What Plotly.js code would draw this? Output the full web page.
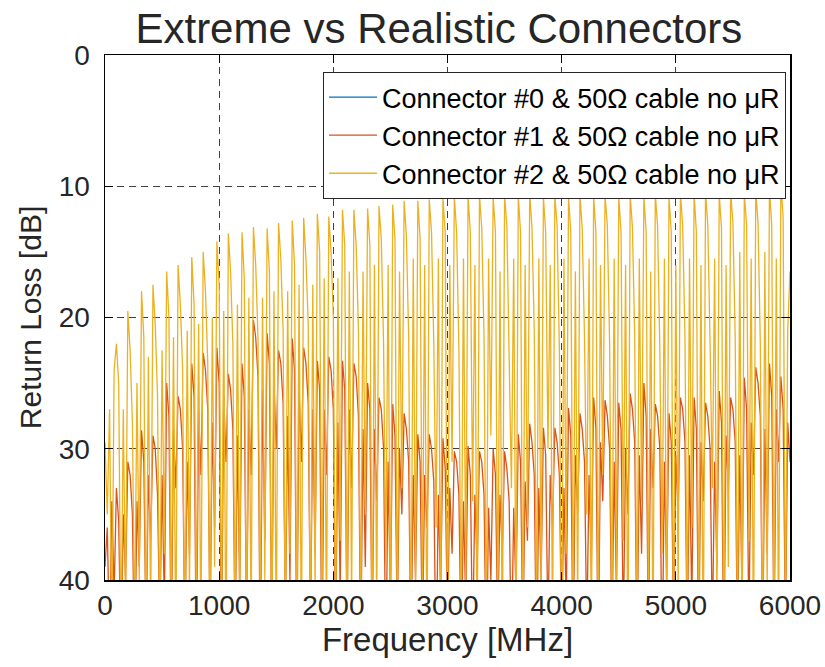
<!DOCTYPE html>
<html>
<head>
<meta charset="utf-8">
<script src="https://cdn.plot.ly/plotly-3.0.1.min.js"></script>
<style>html,body{margin:0;padding:0;background:#fff;}#chart{width:825px;height:667px;}</style>
</head>
<body>
<div id="chart"></div>
<script>
// Frequency sampling of the traces (MHz)
const freqStartMHz = 0;
const freqStepMHz = 20;

// Connector #0 & 50Ω cable no μR — stays below 40 dB (off the plotted range)
const blueFreq = [0, 1000, 2000, 3000, 4000, 5000, 6000];
const blueRL = [62, 55, 51, 49, 47, 46, 45];

// Connector #1 & 50Ω cable no μR (return loss, dB), one resonance per line
const orangeRL = [
  39, 36, 45, 34, 41,
  33, 35.5, 46, 35, 40,
  31, 32, 35, 47, 34, 39,
  28.6, 31, 45, 32, 37,
  29, 30, 33.5, 44, 32, 42,
  25, 27.5, 46, 28.5, 33,
  26, 27, 30, 45, 31, 38,
  23.5, 26, 47, 27, 32,
  22.7, 24, 27, 44, 28, 36,
  22.3, 25, 46, 26, 31,
  24.3, 25.5, 28.5, 45, 29, 41,
  23.5, 26, 44, 27, 32,
  20.2, 21.5, 24.5, 47, 25.5, 37,
  21.2, 23.5, 45, 25, 30,
  22.5, 23.5, 26.5, 43, 27.5, 40,
  21.6, 24, 46, 25.5, 31,
  22.3, 23.5, 26.5, 44, 27, 38,
  23.3, 25.5, 47, 27, 32,
  23, 24, 27, 45, 28, 41,
  23.3, 25.5, 44, 27, 33,
  23.5, 24.5, 27.5, 46, 28.5, 39,
  25, 27, 45, 28.5, 34,
  26.1, 27, 30, 47, 31, 42,
  26.6, 29, 44, 30, 35,
  27.3, 28.5, 31, 46, 32, 40,
  28.9, 31, 45, 32, 36,
  28.9, 30, 32.5, 47, 33.5, 41,
  29.2, 31.5, 44, 33, 38,
  30.2, 31, 33.5, 46, 34, 42,
  29.8, 32, 45, 33.5, 39,
  30.2, 31, 33.5, 47, 34.5, 40,
  30, 32, 44, 33.5, 38,
  30.2, 31.5, 34, 46, 34.5, 41,
  28.9, 31, 45, 32.5, 37,
  28.1, 29.5, 32, 47, 33, 40,
  28.4, 30.5, 44, 32, 36,
  28.4, 29.5, 32, 45, 33, 42,
  26.9, 29, 46, 30.5, 35,
  27.3, 28.5, 31, 44, 32, 39,
  26.1, 28.5, 47, 29.5, 34,
  26.3, 27.5, 30, 45, 31, 41,
  26.5, 28.5, 44, 30, 35,
  25.8, 27, 29.5, 46, 30.5, 38,
  25, 27.5, 45, 28.5, 33,
  26.6, 27.5, 30, 47, 31, 40,
  27.3, 29.5, 44, 30.5, 35,
  26.1, 27, 29.5, 45, 30.5, 42,
  26.1, 28.5, 46, 29.5, 34,
  26.5, 27.5, 30, 44, 31, 39,
  25.6, 28, 47, 29, 33,
  26.1, 27, 29.5, 45, 30.5, 41,
  24.6, 27, 44, 28, 32,
  23.8, 25, 27.5, 46, 28.5, 38,
  23.5, 26, 45, 27, 31,
  24.5, 27, 44, 28, 31
];

// Connector #2 & 50Ω cable no μR (return loss, dB), one resonance per line
const yellowRL = [
  29.5, 35, 27, 45, 24,
  22, 25, 46, 27, 42,
  19.5, 22.5, 28, 44, 25, 40,
  18, 21.5, 47, 23, 43,
  17.5, 20.5, 26, 45, 22.5, 38,
  16.5, 20, 44, 21.5, 46,
  16, 19, 24, 47, 21, 41,
  15.4, 19, 43, 20.5, 45,
  15, 18, 23.5, 46, 20, 39,
  14.2, 17.5, 44, 19.5, 47,
  13.6, 16.5, 22, 45, 19, 42,
  13.5, 17, 46, 18.5, 44,
  13.1, 16, 21.5, 43, 18.5, 40,
  13.2, 16.5, 47, 18, 45,
  12.8, 15.5, 21, 44, 18, 38,
  12.6, 16, 45, 17.5, 46,
  12.4, 15.5, 20.5, 46, 17.5, 41,
  12.1, 15, 43, 17, 44,
  12.3, 15, 20, 45, 17, 37,
  11.8, 14.5, 46, 16.5, 42,
  11.8, 14.5, 21, 44, 16.5, 35,
  11.7, 14.5, 47, 16, 43,
  11.5, 14, 22, 39, 16, 45,
  11.4, 14, 44, 16.5, 33,
  11.1, 13.8, 21.5, 46, 15.5, 40,
  11.1, 14, 42, 16, 47,
  11, 13.5, 22, 36, 15.5, 44,
  10.9, 13.5, 45, 16, 31,
  10.8, 13.5, 22.5, 44, 15.5, 40,
  10.8, 13.5, 34, 16, 46,
  10.7, 13.2, 21.5, 45, 15.5, 29,
  10.8, 13.5, 43, 16.5, 47,
  10.7, 13, 22, 33, 15.5, 44,
  10.8, 13.5, 46, 16, 36,
  10.6, 13.2, 21, 44, 15.5, 41,
  10.8, 13.5, 30, 16, 45,
  10.7, 13, 22.5, 47, 15.5, 38,
  10.8, 13.5, 44, 16.5, 42,
  10.7, 13.2, 21.5, 35, 15.5, 46,
  10.8, 13.5, 45, 16, 32,
  10.7, 13, 22, 44, 15.5, 40,
  10.8, 13.5, 37, 16, 47,
  10.6, 13.2, 21.5, 45, 15.5, 34,
  10.8, 13.5, 43, 16.5, 46,
  10.6, 13, 22.5, 38, 15.5, 44,
  10.8, 13.5, 46, 16, 41,
  10.5, 13, 21.5, 44, 15.5, 36,
  10.6, 13.5, 45, 16, 47,
  10.4, 13, 22, 33, 15.5, 43,
  10.6, 13.2, 46, 16, 39,
  10.4, 12.8, 21.5, 44, 15, 45,
  10.5, 13, 37, 15.5, 46,
  10.3, 12.8, 22, 47, 15, 41,
  10.2, 13, 44, 15.5, 45,
  9.5, 12.5, 43, 21, 16.5
];

const seriesNames = [
  'Connector #0 & 50Ω cable no μR',
  'Connector #1 & 50Ω cable no μR',
  'Connector #2 & 50Ω cable no μR'
];
const xTicks = [0, 1000, 2000, 3000, 4000, 5000, 6000];
const yTicks = [0, 10, 20, 30, 40];

const freqGrid = orangeRL.map((_, i) => freqStartMHz + i * freqStepMHz);

const FONT = 'Liberation Sans, Arial, Helvetica, sans-serif';
const TXT = '#262626';

const traces = [
  {x: blueFreq, y: blueRL, name: seriesNames[0], type: 'scatter', mode: 'lines',
   line: {color: '#0072BD', width: 1.3}},
  {x: freqGrid, y: orangeRL, name: seriesNames[1], type: 'scatter', mode: 'lines',
   line: {color: '#D95319', width: 1.3}},
  {x: freqGrid, y: yellowRL, name: seriesNames[2], type: 'scatter', mode: 'lines',
   line: {color: '#EDB120', width: 1.3}}
];

const axisCommon = {
  showline: true, linecolor: '#000', linewidth: 1.5, mirror: 'ticks',
  ticks: 'inside', ticklen: 8, tickwidth: 1.2, tickcolor: '#000',
  showgrid: true, gridcolor: 'rgba(30,30,30,0.85)', gridwidth: 1.2, griddash: '7px,5px',
  zeroline: false, tickfont: {family: FONT, size: 28, color: TXT}
};

const layout = {
  width: 825, height: 667,
  margin: {l: 105, r: 35, t: 55, b: 87},
  paper_bgcolor: '#fff', plot_bgcolor: '#fff',
  font: {family: FONT, color: TXT},
  title: {text: 'Extreme vs Realistic Connectors', font: {family: FONT, size: 42, color: TXT},
          xref: 'container', x: 0.532, xanchor: 'center', yref: 'container', y: 0.958, yanchor: 'middle'},
  xaxis: Object.assign({}, axisCommon, {
    range: [0, 6000], tickvals: xTicks, ticktext: xTicks.map(String),
    title: {text: 'Frequency [MHz]', font: {family: FONT, size: 33, color: TXT}, standoff: 6}
  }),
  yaxis: Object.assign({}, axisCommon, {
    range: [40, 0], tickvals: yTicks, ticktext: yTicks.map(String), ticklabelstandoff: 8,
    title: {text: 'Return Loss [dB]', font: {family: FONT, size: 30, color: TXT}, standoff: 8}
  }),
  showlegend: true,
  legend: {x: 0.9942, xanchor: 'right', y: 0.9676, yanchor: 'top',
           bgcolor: '#fff', bordercolor: '#262626', borderwidth: 1,
           font: {family: FONT, size: 27, color: '#000'}, itemwidth: 48, tracegroupgap: 0}
};

Plotly.newPlot('chart', traces, layout, {displayModeBar: false, staticPlot: true});
</script>
</body>
</html>
